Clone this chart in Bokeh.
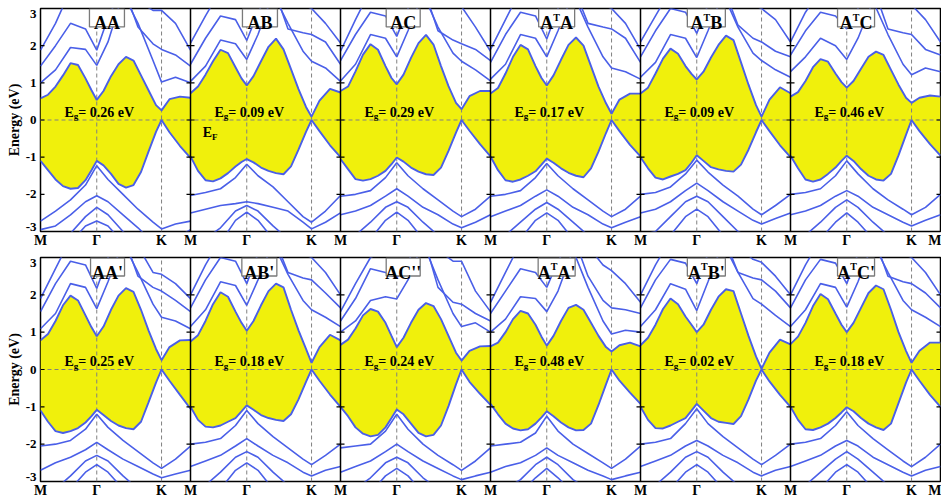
from bokeh.plotting import figure
from bokeh.layouts import column
from bokeh.models import Range1d, FixedTicker
from bokeh.core.properties import value
from bokeh.embed import file_html
from bokeh.resources import INLINE

# ---------------------------------------------------------------------------
# k-path inside one panel (fraction of the panel width): M -> Gamma -> K -> M
GAMMA_POS = 0.375
K_POS = 0.807
K_LABELS = ["M", "Γ", "K"]
Y_TICKS = [-3, -2, -1, 0, 1, 2, 3]

# k-points at which the two gap-edge bands are sampled
K_EDGE = [0.0, 0.05, 0.10, 0.15, 0.20, 0.25, 0.30, 0.34, 0.375, 0.42, 0.47,
          0.52, 0.57, 0.62, 0.67, 0.72, 0.77, 0.807, 0.86, 0.93, 1.0]
# k-points for the remote bands
K_REMOTE = [0.0, 0.10, 0.20, 0.30, 0.375, 0.45, 0.55, 0.65, 0.75, 0.807, 0.90, 1.0]

# ---------------------------------------------------------------------------
# upper row: AA, AB, AC, A^TA, A^TB, A^TC  (energies in eV, E_F = 0)
AA_CB = [0.58, 0.68, 0.90, 1.20, 1.53, 1.48, 1.12, 0.80, 0.54, 0.78, 1.18, 1.50, 1.70, 1.60, 1.20, 0.80, 0.40, 0.26, 0.56, 0.63, 0.60]
AA_VB = [-1.10, -1.35, -1.60, -1.78, -1.85, -1.83, -1.62, -1.35, -1.10, -1.22, -1.45, -1.72, -1.82, -1.75, -1.40, -0.85, -0.32, 0.0, -0.33, -0.70, -1.02]
AA_UP = [[1.00, 1.35, 1.95, 1.90, 1.47, 2.10, 3.40, 2.60, 1.60, 1.02, 1.15, 1.00],
         [1.45, 2.00, 2.60, 2.45, 1.88, 2.75, 3.60, 2.50, 2.05, 1.90, 1.75, 1.45],
         [1.88, 2.60, 3.50, 3.60, 3.60, 3.60, 3.60, 3.20, 2.95, 2.95, 2.60, 1.88]]
AA_LOW = [[-2.72, -2.45, -2.15, -1.75, -1.23, -1.60, -2.00, -2.40, -2.75, -2.93, -2.80, -2.72],
          [-2.95, -2.85, -2.55, -2.20, -2.04, -2.20, -2.55, -2.90, -3.30, -3.40, -3.20, -2.95],
          [-3.50, -3.40, -3.05, -2.60, -2.35, -2.55, -3.00, -3.40, -3.50, -3.50, -3.50, -3.50],
          [-3.60, -3.60, -3.30, -2.85, -2.72, -2.85, -3.30, -3.60, -3.60, -3.60, -3.60, -3.60]]

AB_CB = [0.72, 0.90, 1.22, 1.58, 1.89, 1.80, 1.42, 1.12, 0.93, 1.18, 1.58, 1.97, 2.19, 1.90, 1.37, 0.83, 0.35, 0.09, 0.52, 0.84, 0.74]
AB_VB = [-0.98, -1.37, -1.62, -1.65, -1.57, -1.43, -1.25, -1.13, -1.05, -1.14, -1.28, -1.37, -1.43, -1.46, -1.25, -0.80, -0.32, 0.0, -0.30, -0.68, -1.00]
AB_UP = [[1.04, 1.45, 2.15, 2.05, 1.63, 2.30, 3.40, 2.60, 1.85, 1.58, 1.40, 1.04],
         [1.50, 2.20, 2.80, 2.70, 2.14, 2.90, 3.60, 2.45, 2.35, 2.30, 2.10, 1.50],
         [2.07, 2.80, 3.50, 3.60, 3.60, 3.60, 3.60, 3.30, 3.10, 3.00, 2.60, 2.07]]
AB_LOW = [[-2.03, -1.95, -1.85, -1.55, -1.19, -1.50, -1.80, -2.20, -2.60, -2.75, -2.45, -2.03],
          [-2.50, -2.40, -2.30, -2.25, -2.20, -2.25, -2.35, -2.45, -2.75, -2.93, -2.75, -2.50],
          [-3.30, -3.20, -2.90, -2.45, -2.30, -2.45, -2.85, -3.20, -3.40, -3.40, -3.30, -3.30],
          [-3.60, -3.60, -3.30, -2.70, -2.48, -2.70, -3.20, -3.60, -3.60, -3.60, -3.60, -3.60]]

AC_CB = [0.78, 0.90, 1.31, 1.76, 2.04, 1.89, 1.45, 1.13, 0.96, 1.22, 1.67, 2.07, 2.29, 2.03, 1.45, 0.91, 0.46, 0.29, 0.64, 0.78, 0.78]
AC_VB = [-1.05, -1.32, -1.59, -1.63, -1.59, -1.50, -1.37, -1.19, -1.01, -1.12, -1.28, -1.39, -1.46, -1.48, -1.28, -0.83, -0.34, 0.0, -0.29, -0.65, -0.98]
AC_UP = [[1.05, 1.50, 2.30, 2.20, 1.70, 2.40, 3.40, 2.50, 1.80, 1.58, 1.35, 1.05],
         [1.60, 2.30, 2.90, 2.80, 2.25, 3.00, 3.60, 2.40, 2.15, 2.05, 1.90, 1.60],
         [1.85, 2.70, 3.50, 3.60, 3.60, 3.60, 3.60, 3.30, 3.10, 3.05, 2.50, 1.85]]
AC_LOW = [[-2.05, -2.00, -1.90, -1.55, -1.15, -1.50, -1.85, -2.15, -2.45, -2.60, -2.40, -2.05],
          [-2.55, -2.45, -2.30, -2.05, -1.85, -2.05, -2.35, -2.55, -2.80, -2.90, -2.75, -2.55],
          [-3.20, -3.10, -2.75, -2.35, -2.20, -2.35, -2.75, -3.10, -3.30, -3.30, -3.30, -3.20],
          [-3.60, -3.60, -3.20, -2.70, -2.48, -2.70, -3.20, -3.60, -3.60, -3.60, -3.60, -3.60]]

ATA_CB = [0.71, 0.86, 1.25, 1.70, 2.02, 1.90, 1.45, 1.13, 0.93, 1.20, 1.62, 2.02, 2.22, 2.00, 1.45, 0.90, 0.45, 0.17, 0.55, 0.71, 0.71]
ATA_VB = [-0.98, -1.35, -1.62, -1.66, -1.60, -1.50, -1.38, -1.20, -1.04, -1.15, -1.30, -1.42, -1.50, -1.54, -1.30, -0.85, -0.35, 0.0, -0.30, -0.67, -0.98]
ATA_UP = [[1.10, 1.50, 2.30, 2.20, 1.70, 2.40, 3.40, 2.50, 1.70, 1.40, 1.30, 1.10],
          [1.55, 2.30, 2.90, 2.80, 2.18, 3.00, 3.60, 2.60, 2.50, 2.45, 2.20, 1.55],
          [1.90, 2.70, 3.50, 3.60, 3.60, 3.60, 3.60, 3.40, 3.10, 3.00, 2.60, 1.90]]
ATA_LOW = [[-2.05, -2.00, -1.90, -1.55, -1.17, -1.50, -1.85, -2.15, -2.45, -2.60, -2.40, -2.05],
           [-2.60, -2.45, -2.30, -2.05, -1.88, -2.05, -2.35, -2.55, -2.80, -2.90, -2.75, -2.60],
           [-3.20, -3.10, -2.75, -2.40, -2.22, -2.40, -2.75, -3.10, -3.30, -3.30, -3.30, -3.20],
           [-3.60, -3.60, -3.20, -2.70, -2.50, -2.70, -3.20, -3.60, -3.60, -3.60, -3.60, -3.60]]

ATB_CB = [0.71, 0.87, 1.25, 1.65, 1.92, 1.78, 1.45, 1.24, 1.09, 1.30, 1.68, 2.02, 2.27, 2.15, 1.55, 0.95, 0.40, 0.09, 0.55, 0.88, 0.72]
ATB_VB = [-1.00, -1.30, -1.55, -1.60, -1.52, -1.45, -1.35, -1.15, -0.95, -1.10, -1.27, -1.33, -1.37, -1.39, -1.20, -0.80, -0.33, 0.0, -0.30, -0.68, -1.00]
ATB_UP = [[1.15, 1.55, 2.30, 2.20, 1.68, 2.40, 3.40, 2.50, 1.80, 1.60, 1.35, 1.15],
          [1.70, 2.40, 3.00, 2.90, 2.33, 3.10, 3.60, 2.55, 2.20, 2.10, 1.85, 1.70],
          [2.10, 2.80, 3.50, 3.60, 3.60, 3.60, 3.60, 3.40, 3.10, 3.00, 2.70, 2.10]]
ATB_LOW = [[-2.00, -1.95, -1.80, -1.45, -1.08, -1.40, -1.75, -2.05, -2.40, -2.55, -2.30, -2.00],
           [-2.50, -2.40, -2.20, -1.90, -1.70, -1.90, -2.20, -2.45, -2.70, -2.80, -2.65, -2.50],
           [-3.10, -3.00, -2.60, -2.20, -2.05, -2.20, -2.60, -3.00, -3.20, -3.20, -3.20, -3.10],
           [-3.60, -3.50, -3.10, -2.60, -2.40, -2.60, -3.10, -3.50, -3.60, -3.60, -3.60, -3.60]]

ATC_CB = [0.63, 0.75, 1.05, 1.42, 1.64, 1.57, 1.25, 1.02, 0.87, 1.05, 1.38, 1.70, 1.84, 1.75, 1.35, 0.95, 0.60, 0.46, 0.60, 0.66, 0.63]
ATC_VB = [-0.96, -1.30, -1.60, -1.66, -1.60, -1.45, -1.28, -1.10, -0.96, -1.10, -1.32, -1.50, -1.60, -1.63, -1.45, -0.95, -0.40, 0.0, -0.30, -0.65, -0.96]
ATC_UP = [[1.30, 1.70, 2.20, 2.00, 1.63, 2.20, 3.20, 2.30, 1.50, 1.22, 1.40, 1.30],
          [1.75, 2.40, 2.90, 2.80, 2.45, 3.00, 3.60, 2.45, 2.35, 2.30, 1.90, 1.75],
          [2.10, 2.90, 3.50, 3.60, 3.60, 3.60, 3.60, 3.40, 3.20, 3.10, 2.70, 2.10]]
ATC_LOW = [[-2.00, -1.95, -1.85, -1.50, -1.10, -1.45, -1.85, -2.15, -2.40, -2.55, -2.35, -2.00],
           [-2.55, -2.45, -2.30, -2.05, -1.90, -2.05, -2.35, -2.55, -2.75, -2.85, -2.70, -2.55],
           [-3.20, -3.10, -2.75, -2.35, -2.15, -2.35, -2.75, -3.10, -3.30, -3.30, -3.30, -3.20],
           [-3.60, -3.60, -3.20, -2.75, -2.50, -2.75, -3.20, -3.60, -3.60, -3.60, -3.60, -3.60]]

# lower row: AA', AB', AC'', A^TA', A^TB', A^TC'
AAp_CB = [0.78, 0.95, 1.30, 1.72, 1.98, 1.85, 1.45, 1.13, 0.89, 1.15, 1.60, 1.98, 2.18, 2.08, 1.60, 1.05, 0.55, 0.25, 0.60, 0.78, 0.79]
AAp_VB = [-1.10, -1.40, -1.65, -1.70, -1.65, -1.57, -1.42, -1.25, -1.08, -1.22, -1.38, -1.50, -1.57, -1.60, -1.40, -0.88, -0.35, 0.0, -0.30, -0.68, -1.05]
AAp_UP = [[1.09, 1.50, 2.30, 2.20, 1.63, 2.35, 3.40, 2.60, 1.75, 1.40, 1.30, 1.09],
          [1.55, 2.30, 2.90, 2.80, 2.17, 3.00, 3.60, 2.50, 2.20, 2.10, 1.85, 1.55],
          [1.90, 2.70, 3.50, 3.60, 3.60, 3.60, 3.60, 3.30, 2.60, 2.55, 2.30, 1.90]]
AAp_LOW = [[-2.05, -2.00, -1.90, -1.60, -1.20, -1.55, -1.90, -2.20, -2.50, -2.65, -2.40, -2.05],
           [-2.70, -2.50, -2.35, -2.15, -1.95, -2.15, -2.40, -2.60, -2.80, -2.90, -2.80, -2.70],
           [-3.30, -3.20, -2.85, -2.45, -2.30, -2.45, -2.85, -3.20, -3.40, -3.40, -3.40, -3.30],
           [-3.60, -3.60, -3.20, -2.75, -2.55, -2.75, -3.20, -3.60, -3.60, -3.60, -3.60, -3.60]]

ABp_CB = [0.75, 0.92, 1.30, 1.75, 2.07, 1.95, 1.55, 1.25, 1.04, 1.30, 1.72, 2.10, 2.30, 2.20, 1.60, 1.05, 0.55, 0.18, 0.60, 0.93, 0.78]
ABp_VB = [-1.00, -1.35, -1.53, -1.55, -1.50, -1.40, -1.30, -1.12, -0.96, -1.08, -1.22, -1.30, -1.35, -1.38, -1.20, -0.80, -0.33, 0.0, -0.30, -0.67, -1.00]
ABp_UP = [[1.15, 1.60, 2.35, 2.25, 1.72, 2.40, 3.40, 2.55, 1.85, 1.60, 1.40, 1.15],
          [1.65, 2.40, 3.00, 2.90, 2.30, 3.10, 3.60, 2.60, 2.45, 2.40, 2.05, 1.65],
          [2.00, 2.80, 3.50, 3.60, 3.60, 3.60, 3.60, 3.40, 3.10, 3.00, 2.60, 2.00]]
ABp_LOW = [[-2.00, -1.95, -1.85, -1.50, -1.10, -1.45, -1.80, -2.10, -2.40, -2.55, -2.30, -2.00],
           [-2.60, -2.45, -2.30, -2.05, -1.85, -2.05, -2.30, -2.50, -2.75, -2.85, -2.70, -2.60],
           [-3.20, -3.10, -2.75, -2.35, -2.20, -2.35, -2.75, -3.10, -3.30, -3.30, -3.30, -3.20],
           [-3.60, -3.60, -3.20, -2.70, -2.50, -2.70, -3.20, -3.60, -3.60, -3.60, -3.60, -3.60]]

ACp_CB = [0.66, 0.80, 1.10, 1.45, 1.62, 1.55, 1.25, 0.90, 0.60, 0.85, 1.25, 1.60, 1.78, 1.70, 1.35, 0.90, 0.45, 0.24, 0.50, 0.62, 0.63]
ACp_VB = [-1.00, -1.25, -1.55, -1.72, -1.79, -1.75, -1.55, -1.30, -1.07, -1.20, -1.45, -1.70, -1.79, -1.75, -1.50, -0.98, -0.40, 0.0, -0.33, -0.65, -0.95]
ACp_UP = [[1.00, 1.30, 1.85, 1.95, 1.89, 2.40, 3.40, 2.40, 1.50, 1.15, 1.25, 1.00],
          [1.30, 1.90, 2.70, 2.60, 2.45, 2.90, 3.60, 2.20, 1.80, 1.75, 1.50, 1.30],
          [1.55, 2.30, 3.00, 3.20, 3.50, 3.60, 3.60, 3.20, 2.90, 2.90, 2.10, 1.55]]
ACp_LOW = [[-2.10, -2.05, -2.00, -1.65, -1.20, -1.60, -2.00, -2.30, -2.55, -2.70, -2.45, -2.10],
           [-2.75, -2.60, -2.45, -2.20, -2.00, -2.20, -2.45, -2.65, -2.85, -2.95, -2.85, -2.75],
           [-3.30, -3.20, -2.90, -2.50, -2.35, -2.50, -2.90, -3.20, -3.40, -3.40, -3.40, -3.30],
           [-3.60, -3.60, -3.30, -2.85, -2.65, -2.85, -3.30, -3.60, -3.60, -3.60, -3.60, -3.60]]

ATAp_CB = [0.62, 0.72, 1.00, 1.35, 1.57, 1.50, 1.20, 0.88, 0.64, 0.90, 1.30, 1.65, 1.73, 1.60, 1.25, 0.90, 0.60, 0.48, 0.65, 0.72, 0.62]
ATAp_VB = [-0.92, -1.20, -1.45, -1.58, -1.63, -1.60, -1.45, -1.28, -1.12, -1.25, -1.42, -1.55, -1.63, -1.62, -1.45, -0.95, -0.40, 0.0, -0.30, -0.62, -0.92]
ATAp_UP = [[1.00, 1.35, 1.95, 1.90, 1.55, 2.10, 3.20, 2.20, 1.30, 0.95, 1.05, 1.00],
           [1.50, 2.10, 2.70, 2.60, 2.20, 2.90, 3.60, 2.50, 1.85, 1.65, 1.60, 1.50],
           [1.80, 2.60, 3.40, 3.60, 3.60, 3.60, 3.60, 3.30, 2.80, 2.65, 2.30, 1.80]]
ATAp_LOW = [[-2.05, -2.00, -1.95, -1.70, -1.25, -1.65, -2.00, -2.25, -2.50, -2.65, -2.40, -2.05],
            [-2.75, -2.60, -2.50, -2.30, -2.10, -2.30, -2.50, -2.70, -2.85, -2.95, -2.85, -2.75],
            [-3.30, -3.20, -2.95, -2.55, -2.35, -2.55, -2.95, -3.20, -3.40, -3.40, -3.40, -3.30],
            [-3.60, -3.60, -3.30, -2.90, -2.65, -2.90, -3.30, -3.60, -3.60, -3.60, -3.60, -3.60]]

ATBp_CB = [0.65, 0.85, 1.20, 1.62, 1.90, 1.75, 1.42, 1.20, 1.00, 1.20, 1.60, 1.95, 2.15, 2.10, 1.50, 0.90, 0.35, 0.02, 0.45, 0.80, 0.67]
ATBp_VB = [-1.00, -1.35, -1.57, -1.58, -1.50, -1.40, -1.30, -1.10, -0.92, -1.10, -1.30, -1.40, -1.43, -1.46, -1.25, -0.80, -0.30, 0.0, -0.32, -0.68, -1.00]
ATBp_UP = [[1.15, 1.60, 2.30, 2.15, 1.58, 2.35, 3.40, 2.60, 1.90, 1.75, 1.45, 1.15],
           [1.65, 2.40, 2.95, 2.85, 2.30, 3.10, 3.60, 2.60, 2.45, 2.40, 2.10, 1.65],
           [2.00, 2.80, 3.50, 3.60, 3.60, 3.60, 3.60, 3.30, 2.95, 2.87, 2.50, 2.00]]
ATBp_LOW = [[-2.00, -1.95, -1.85, -1.45, -1.05, -1.45, -1.80, -2.10, -2.40, -2.55, -2.30, -2.00],
            [-2.60, -2.45, -2.30, -2.05, -1.90, -2.05, -2.30, -2.50, -2.75, -2.85, -2.70, -2.60],
            [-3.20, -3.10, -2.75, -2.35, -2.20, -2.35, -2.75, -3.10, -3.30, -3.30, -3.30, -3.20],
            [-3.60, -3.60, -3.20, -2.75, -2.55, -2.75, -3.20, -3.60, -3.60, -3.60, -3.60, -3.60]]

ATCp_CB = [0.68, 0.88, 1.25, 1.70, 2.02, 1.88, 1.50, 1.20, 1.00, 1.25, 1.65, 2.05, 2.25, 2.15, 1.60, 1.00, 0.50, 0.18, 0.50, 0.72, 0.72]
ATCp_VB = [-1.00, -1.35, -1.60, -1.62, -1.55, -1.45, -1.30, -1.15, -1.01, -1.12, -1.30, -1.45, -1.55, -1.62, -1.45, -0.90, -0.35, 0.0, -0.30, -0.68, -1.00]
ATCp_UP = [[1.15, 1.60, 2.30, 2.20, 1.67, 2.35, 3.40, 2.60, 1.85, 1.60, 1.40, 1.15],
           [1.65, 2.40, 2.95, 2.85, 2.30, 3.10, 3.60, 2.50, 2.35, 2.30, 2.05, 1.65],
           [2.00, 2.80, 3.50, 3.60, 3.60, 3.60, 3.60, 3.40, 3.10, 3.00, 2.60, 2.00]]
ATCp_LOW = [[-2.00, -1.95, -1.85, -1.50, -1.13, -1.50, -1.85, -2.15, -2.45, -2.60, -2.35, -2.00],
            [-2.60, -2.45, -2.30, -2.05, -1.90, -2.05, -2.35, -2.55, -2.75, -2.85, -2.70, -2.60],
            [-3.20, -3.10, -2.75, -2.40, -2.20, -2.40, -2.75, -3.10, -3.30, -3.30, -3.30, -3.20],
            [-3.60, -3.60, -3.20, -2.75, -2.55, -2.75, -3.20, -3.60, -3.60, -3.60, -3.60, -3.60]]

TOP_TITLES = ["AA", "AB", "AC", "A^TA", "A^TB", "A^TC"]
BOTTOM_TITLES = ["AA'", "AB'", "AC''", "A^TA'", "A^TB'", "A^TC'"]
TOP_PANELS = [(AA_CB, AA_VB, AA_UP, AA_LOW), (AB_CB, AB_VB, AB_UP, AB_LOW),
              (AC_CB, AC_VB, AC_UP, AC_LOW), (ATA_CB, ATA_VB, ATA_UP, ATA_LOW),
              (ATB_CB, ATB_VB, ATB_UP, ATB_LOW), (ATC_CB, ATC_VB, ATC_UP, ATC_LOW)]
BOTTOM_PANELS = [(AAp_CB, AAp_VB, AAp_UP, AAp_LOW), (ABp_CB, ABp_VB, ABp_UP, ABp_LOW),
                 (ACp_CB, ACp_VB, ACp_UP, ACp_LOW), (ATAp_CB, ATAp_VB, ATAp_UP, ATAp_LOW),
                 (ATBp_CB, ATBp_VB, ATBp_UP, ATBp_LOW), (ATCp_CB, ATCp_VB, ATCp_UP, ATCp_LOW)]

# ---------------------------------------------------------------------------
# styling
FONT = "Liberation Serif"
BAND_COLOR = "#4a5fe8"
GAP_FILL = "#f0f00c"
DASH_COLOR = "#808080"
N_PANELS = 6
FRAME_W = 900

# title box placement (fraction of panel width) and box widths in px
TOP_BOX_X = [0.443, 0.463, 0.418, 0.441, 0.439, 0.437]
TOP_BOX_W = [35, 35, 34, 36, 38, 37]
BOTTOM_BOX_X = [0.447, 0.459, 0.418, 0.441, 0.439, 0.437]
BOTTOM_BOX_W = [34, 35, 34, 37, 38, 37]

# approximate advance widths of bold serif glyphs (in em)
GLYPH_W = {"A": 0.722, "B": 0.667, "C": 0.722, "T": 0.667, "'": 0.278, "E": 0.667,
           "g": 0.5, "F": 0.611, "=": 0.57, " ": 0.25, ".": 0.25, "e": 0.444, "V": 0.722}


def text_width(s, size):
    return sum(GLYPH_W.get(c, 0.5) for c in s) * size


def draw_runs(p, x_center, y_base, runs, px_y):
    """Draw a run of text pieces (text, font px, downward shift px) centred on x_center."""
    px_x = N_PANELS / FRAME_W
    widths = [text_width(t, s) for t, s, _ in runs]
    x = x_center - sum(widths) / 2 * px_x
    for (t, s, dy), w in zip(runs, widths):
        p.text(x=[x], y=[y_base - dy * px_y], text=[t], text_font=value(FONT),
               text_font_style="bold", text_font_size=f"{s}px", text_color="black",
               text_align="left", text_baseline="alphabetic")
        x += w * px_x


def title_runs(title):
    runs = []
    i = 0
    while i < len(title):
        if title[i] == "^":
            runs.append((title[i + 1], 10, -6))
            i += 2
        else:
            runs.append((title[i], 18, 0))
            i += 1
    return runs


def make_row(panels, titles, box_x, box_w, height, top, bottom, show_ef):
    frame_h = height - top - bottom
    px_y = 6.0 / frame_h
    px_x = N_PANELS / FRAME_W
    p = figure(width=941, height=height, x_range=Range1d(0, N_PANELS), y_range=Range1d(-3, 3),
               output_backend="svg", toolbar_location=None,
               min_border_left=40, min_border_right=1, min_border_top=top, min_border_bottom=bottom)
    p.xgrid.visible = False
    p.ygrid.visible = False
    p.outline_line_color = "black"
    p.outline_line_width = 1.5
    p.background_fill_color = "white"
    p.border_fill_color = "white"

    # x axis: high-symmetry points
    ticks, names = [], {}
    for i in range(N_PANELS):
        for f, lab in zip([0.0, GAMMA_POS, K_POS], K_LABELS):
            t = round(i + f, 4)
            ticks.append(t)
            names[t] = lab
    ticks.append(float(N_PANELS))
    names[float(N_PANELS)] = "M"
    xa = p.xaxis[0]
    xa.ticker = FixedTicker(ticks=ticks)
    xa.major_label_overrides = names
    xa.major_tick_in = 0
    xa.major_tick_out = 0
    xa.minor_tick_line_color = None
    xa.axis_line_color = None
    xa.major_label_standoff = 1
    xa.major_label_text_font = FONT
    xa.major_label_text_font_style = "bold"
    xa.major_label_text_font_size = "14px"
    xa.major_label_text_color = "black"

    # y axis: labels only; the end labels are nudged inside the frame edges,
    # and the tick marks themselves are drawn as segments below
    label_pos, label_txt = [], {}
    for yv in Y_TICKS:
        pos = yv
        if yv == Y_TICKS[-1]:
            pos = round(yv - 5.5 * px_y, 4)
        elif yv == Y_TICKS[0]:
            pos = round(yv + 5.0 * px_y, 4)
        label_pos.append(pos)
        label_txt[pos] = str(yv)
    ya = p.yaxis[0]
    ya.ticker = FixedTicker(ticks=label_pos)
    ya.major_label_overrides = label_txt
    ya.major_tick_in = 0
    ya.major_tick_out = 0
    ya.major_tick_line_color = None
    ya.minor_tick_line_color = None
    ya.axis_line_color = None
    ya.major_label_standoff = 4
    ya.major_label_text_font = FONT
    ya.major_label_text_font_style = "bold"
    ya.major_label_text_font_size = "13px"
    ya.major_label_text_color = "black"
    ya.axis_label = "Energy (eV)"
    ya.axis_label_standoff = 1
    ya.axis_label_text_font = FONT
    ya.axis_label_text_font_style = "bold"
    ya.axis_label_text_font_size = "14px"
    ya.axis_label_text_color = "black"

    # gap regions between the band edges
    for i, (cb, vb, up, low) in enumerate(panels):
        xs = [i + k for k in K_EDGE]
        p.varea(x=xs, y1=vb, y2=cb, fill_color=GAP_FILL, fill_alpha=1.0)

    # dashed guides: Fermi level and the Gamma / K verticals
    p.segment(x0=[0], y0=[0], x1=[N_PANELS], y1=[0], line_color=DASH_COLOR,
              line_width=1, line_dash="4 3")
    gx = [i + f for i in range(N_PANELS) for f in (GAMMA_POS, K_POS)]
    p.segment(x0=gx, y0=[-3] * len(gx), x1=gx, y1=[3] * len(gx), line_color=DASH_COLOR,
              line_width=1, line_dash="4 3")

    # bands
    for i, (cb, vb, up, low) in enumerate(panels):
        xr = [i + k for k in K_REMOTE]
        for band in up + low:
            p.line(xr, band, line_color=BAND_COLOR, line_width=1.6)
        xs = [i + k for k in K_EDGE]
        p.line(xs, cb, line_color=BAND_COLOR, line_width=1.9)
        p.line(xs, vb, line_color=BAND_COLOR, line_width=1.9)

    # panel dividers with tick marks on both sides (inward only at the outer edges)
    dv = list(range(1, N_PANELS))
    p.segment(x0=dv, y0=[-3] * len(dv), x1=dv, y1=[3] * len(dv), line_color="black", line_width=1.5)
    d = 4 * px_x
    tx0, tx1, ty = [], [], []
    for y in Y_TICKS:
        tx0.append(0); tx1.append(d); ty.append(y)
        for x in dv:
            tx0.append(x - d); tx1.append(x + d); ty.append(y)
        tx0.append(N_PANELS - d); tx1.append(N_PANELS); ty.append(y)
    p.segment(x0=tx0, y0=ty, x1=tx1, y1=ty, line_color="black", line_width=1.2)

    # title boxes
    for i, t in enumerate(titles):
        cx = i + box_x[i]
        p.rect(x=[cx], y=[3 - 9.5 * px_y], width=box_w[i], height=18, width_units="screen",
               height_units="screen", fill_color="white", line_color="#7a7a7a", line_width=1.3)
        draw_runs(p, cx, 3 - 15 * px_y, title_runs(t), px_y)

    # band-gap annotations
    for i, (cb, vb, up, low) in enumerate(panels):
        gap = min(cb) - max(vb)
        runs = [("E", 14, 0), ("g", 9, 4), (f"= {gap:.2f} eV", 14, 0)]
        draw_runs(p, i + GAMMA_POS + 2.5 * px_x, 8 * px_y, runs, px_y)

    if show_ef:
        draw_runs(p, 1 + 0.077 + 8 * px_x, -13 * px_y, [("E", 14, 0), ("F", 9, 4)], px_y)
    return p


p_top = make_row(TOP_PANELS, TOP_TITLES, TOP_BOX_X, TOP_BOX_W, 250, 8, 17, True)
p_bottom = make_row(BOTTOM_PANELS, BOTTOM_TITLES, BOTTOM_BOX_X, BOTTOM_BOX_W, 251, 7, 20, False)

layout = column(p_top, p_bottom, spacing=0)
open("out.html", "w").write(file_html(layout, INLINE, title="Band structures"))
